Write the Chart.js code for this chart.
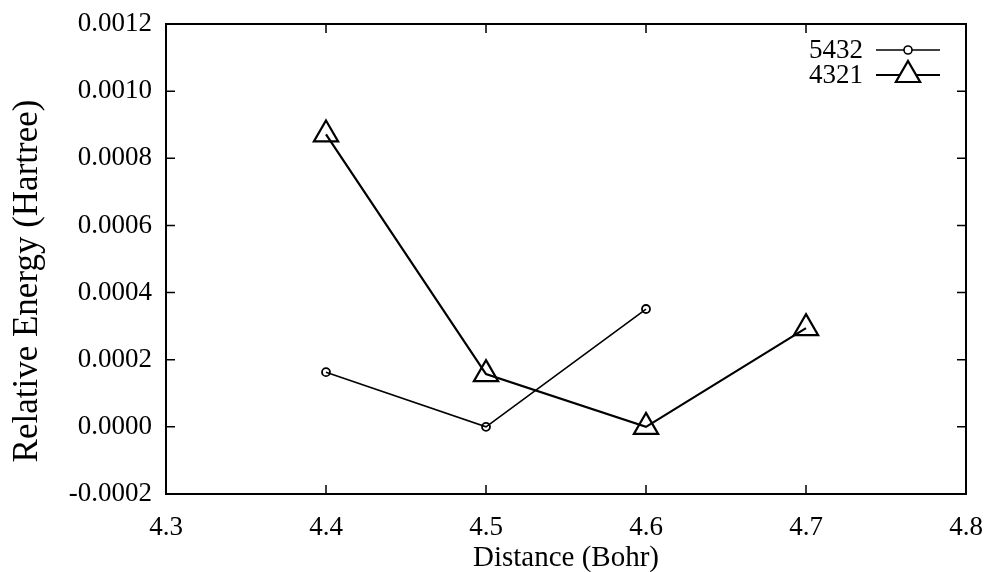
<!DOCTYPE html>
<html><head><meta charset="utf-8">
<script src="https://cdn.jsdelivr.net/npm/chart.js@4.4.0/dist/chart.umd.min.js"></script>
<style>html,body{margin:0;padding:0;background:#fff}#wrap{width:985px;height:572px}</style>
</head><body><div id="wrap"><canvas id="c" width="985" height="572"></canvas></div>
<script>
const xTicks = [4.3, 4.4, 4.5, 4.6, 4.7, 4.8];
const yTicks = [-0.0002, 0.0, 0.0002, 0.0004, 0.0006, 0.0008, 0.0010, 0.0012];
const x5432 = [4.4, 4.5, 4.6];
const y5432 = [0.000163, 0.0, 0.000351];
const x4321 = [4.4, 4.5, 4.6, 4.7];
const y4321 = [0.000871, 0.000157, 0.0, 0.000294];
const seriesNames = ['5432', '4321'];
const xTitle = 'Distance (Bohr)';
const yTitle = 'Relative Energy (Hartree)';

const FONT = 'Liberation Serif';
const FS = 27;

const frame = {
  id: 'frame',
  afterDatasetsDraw(chart) {
    const {ctx, chartArea: a, scales: {x, y}} = chart;
    ctx.save();
    ctx.strokeStyle = '#000';
    ctx.lineWidth = 2;
    ctx.strokeRect(a.left, a.top, a.right - a.left, a.bottom - a.top);
    ctx.lineWidth = 1.5;
    const L = 9;
    ctx.beginPath();
    xTicks.forEach(v => {
      const px = x.getPixelForValue(v);
      ctx.moveTo(px, a.bottom); ctx.lineTo(px, a.bottom - L);
      ctx.moveTo(px, a.top); ctx.lineTo(px, a.top + L);
    });
    yTicks.forEach(v => {
      const py = y.getPixelForValue(v);
      ctx.moveTo(a.left, py); ctx.lineTo(a.left + L, py);
      ctx.moveTo(a.right, py); ctx.lineTo(a.right - L, py);
    });
    ctx.stroke();
    // y title
    ctx.save();
    ctx.translate(28, 281);
    ctx.rotate(-Math.PI / 2);
    ctx.font = '35px "' + FONT + '"';
    ctx.fillStyle = '#000';
    ctx.textAlign = 'center';
    ctx.textBaseline = 'middle';
    ctx.fillText(yTitle, 0, 0);
    ctx.restore();
    // legend
    ctx.font = FS + 'px "' + FONT + '"';
    ctx.textAlign = 'right';
    ctx.textBaseline = 'middle';
    const rows = [a.top + 26, a.top + 51];
    chart.data.datasets.forEach((ds, i) => {
      const yy = rows[i];
      ctx.fillStyle = '#000';
      ctx.fillText(ds.label, a.right - 103, yy + 1);
      ctx.lineWidth = ds.borderWidth;
      ctx.beginPath();
      ctx.moveTo(a.right - 90, yy); ctx.lineTo(a.right - 26, yy);
      ctx.stroke();
      ctx.fillStyle = '#fff';
      Chart.helpers.drawPoint(ctx, {pointStyle: ds.pointStyle, radius: ds.pointRadius, borderWidth: ds.pointBorderWidth}, a.right - 58, yy);
    });
    ctx.restore();
  }
};

new Chart(document.getElementById('c'), {
  type: 'scatter',
  data: {
    datasets: [
      {label: seriesNames[0], data: x5432.map((v, i) => ({x: v, y: y5432[i]})), showLine: true,
       borderColor: '#000', borderWidth: 1.6, pointStyle: 'circle', pointRadius: 4,
       pointBorderWidth: 1.8, pointBackgroundColor: 'rgba(0,0,0,0)', pointBorderColor: '#000'},
      {label: seriesNames[1], data: x4321.map((v, i) => ({x: v, y: y4321[i]})), showLine: true,
       borderColor: '#000', borderWidth: 2.2, pointStyle: 'triangle', pointRadius: 14,
       pointBorderWidth: 2.2, pointBackgroundColor: 'rgba(0,0,0,0)', pointBorderColor: '#000'}
    ]
  },
  options: {
    responsive: false, animation: false,
    layout: {padding: {left: 0, right: 19, top: 24, bottom: 0}},
    plugins: {legend: {display: false}, tooltip: {enabled: false}},
    scales: {
      x: {
        type: 'linear', min: 4.3, max: 4.8,
        afterBuildTicks(s) { s.ticks = xTicks.map(v => ({value: v})); },
        afterFit(s) { s.height = 78; s.paddingLeft = 0; s.paddingRight = 0; },
        grid: {display: false, drawTicks: false},
        border: {display: false},
        ticks: {padding: 18, color: '#000', font: {family: FONT, size: FS},
          callback: v => v.toFixed(1)},
        title: {display: true, text: xTitle, color: '#000', font: {family: FONT, size: 29}, padding: {top: 2, bottom: -4}}
      },
      y: {
        type: 'linear', min: -0.0002, max: 0.0012,
        afterBuildTicks(s) { s.ticks = yTicks.map(v => ({value: v})); },
        afterFit(s) { s.width = 166; s.paddingTop = 0; s.paddingBottom = 0; },
        grid: {display: false, drawTicks: false},
        border: {display: false},
        ticks: {padding: 14, color: '#000', font: {family: FONT, size: FS},
          callback: v => v.toFixed(4)},
        title: {display: false}
      }
    }
  },
  plugins: [frame]
});
</script></body></html>
